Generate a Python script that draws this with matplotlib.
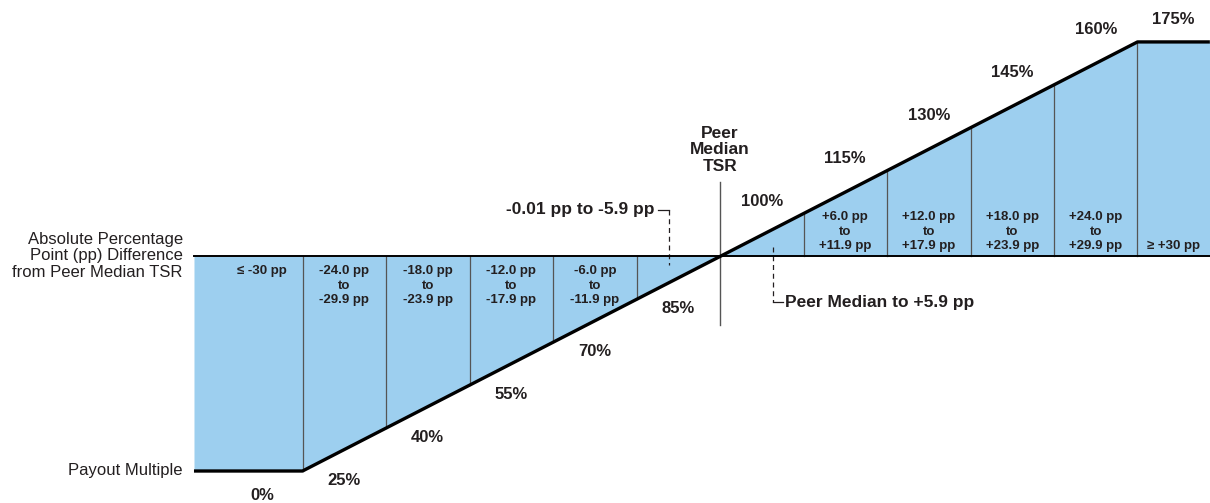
import numpy as np
import matplotlib.pyplot as plt

plt.rcParams['font.family'] = ['Liberation Sans', 'DejaVu Sans']

# pp boundaries between payout cells
bounds = [-30, -24, -18, -12, -6, 0, 6, 12, 18, 24, 30]
# payout multiple (%) for each cell, left to right
payouts = [0, 25, 40, 55, 70, 85, 100, 115, 130, 145, 160, 175]
# range text inside each cell
cell_labels = [
    "≤ -30 pp",
    "-24.0 pp\nto\n-29.9 pp",
    "-18.0 pp\nto\n-23.9 pp",
    "-12.0 pp\nto\n-17.9 pp",
    "-6.0 pp\nto\n-11.9 pp",
    "",
    "",
    "+6.0 pp\nto\n+11.9 pp",
    "+12.0 pp\nto\n+17.9 pp",
    "+18.0 pp\nto\n+23.9 pp",
    "+24.0 pp\nto\n+29.9 pp",
    "≥ +30 pp",
]
# schematic payout line (x in pp, y in drawing units: 0 = bottom, 175 = top)
curve_x = [-37.8, -30, 30, 35.2]
curve_y = [0, 0, 175, 175]
base_y = 87.5

fill_color = '#9DCFEF'
txt = '#231F20'
px = 1 / 2.4514  # drawing units per pixel (vertical)

fig = plt.figure(figsize=(12.1, 5.03), dpi=100)
ax = fig.add_axes([0, 0, 1, 1])
ax.set_xlim(-51.74, 35.21)
ax.set_ylim(-13.05, 192.1)
ax.axis('off')

xs = np.array(curve_x)
ys = np.array(curve_y)
ax.fill_between(xs, ys, base_y, color=fill_color, lw=0, zorder=1)

# cell dividers
for b in bounds:
    if b == 0:
        continue
    yc = np.interp(b, xs, ys)
    ax.plot([b, b], [base_y, yc], color='#555555', lw=0.9, zorder=2)

# peer median vertical
ax.plot([0, 0], [117.9, 59.6], color='#555555', lw=1.0, zorder=2)

ax.plot([curve_x[0], 35.21], [base_y, base_y], color='black', lw=1.4, zorder=3)
ax.plot(xs, ys, color='black', lw=2.4, zorder=4, solid_capstyle='butt')

# cell range labels and payout labels
edges = [curve_x[0]] + bounds + [curve_x[-1]]
for i, (lab, pay) in enumerate(zip(cell_labels, payouts)):
    mid = (edges[i] + edges[i + 1]) / 2
    if i == 0:
        mid += 1.0
    if lab:
        if mid < 0:
            ax.text(mid, 84.1, lab, ha='center', va='top', fontsize=9.5,
                    fontweight='bold', color=txt, linespacing=1.3, zorder=5)
        else:
            ax.text(mid, 89.2, lab, ha='center', va='bottom', fontsize=9.5,
                    fontweight='bold', color=txt, linespacing=1.3, zorder=5)
    yc = np.interp(mid, xs, ys)
    if i == 0:
        ty = yc - 24 * px
    elif i == len(payouts) - 1:
        ty = yc + 22 * px
    elif mid < 0:
        ty = yc - 31 * px
    else:
        ty = yc + 34 * px
    ax.text(mid, ty, f"{pay}%", ha='center', va='center', fontsize=12,
            fontweight='bold', color=txt, zorder=5)

# peer median heading
ax.text(0, 121.3, "Peer\nMedian\nTSR", ha='center', va='bottom', fontsize=12.5,
        fontweight='bold', color=txt, linespacing=1.1)

# leader for first cell right of the negative side
ax.plot([-4.455, -3.66], [106.5, 106.5], color=txt, lw=0.9)
ax.plot([-3.66, -3.66], [106.5, 84.0], color=txt, lw=0.9, ls=(0, (4, 3)))
ax.text(-4.7, 106.5, "-0.01 pp to -5.9 pp", ha='right', va='center', fontsize=12.5,
        fontweight='bold', color=txt)

# leader for peer median cell
ax.plot([3.81, 3.81], [91.4, 68.9], color=txt, lw=0.9, ls=(0, (4, 3)))
ax.plot([3.81, 4.5], [68.9, 68.9], color=txt, lw=0.9)
ax.text(4.7, 68.9, "Peer Median to +5.9 pp", ha='left', va='center', fontsize=12.5,
        fontweight='bold', color=txt)

# left side captions
ax.text(-38.6, 87.7, "Absolute Percentage\nPoint (pp) Difference\nfrom Peer Median TSR",
        ha='right', va='center', fontsize=12, color=txt, linespacing=1.12)
ax.text(-38.6, 0.4, "Payout Multiple", ha='right', va='center', fontsize=12,
        color=txt)

fig.savefig('out.png', dpi=100)
